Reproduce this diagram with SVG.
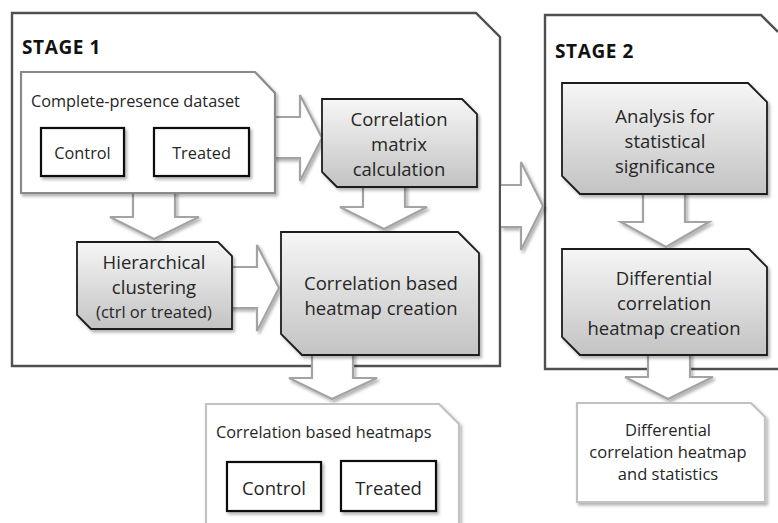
<svg xmlns="http://www.w3.org/2000/svg" width="778" height="523" viewBox="0 0 778 523">
<defs>
  <linearGradient id="proc" x1="0" y1="0" x2="0" y2="1">
    <stop offset="0" stop-color="#f6f6f6"/>
    <stop offset="1" stop-color="#c3c3c3"/>
  </linearGradient>
  <filter id="sh" x="-10%" y="-10%" width="125%" height="125%">
    <feDropShadow dx="2" dy="2.5" stdDeviation="1.6" flood-color="#000" flood-opacity="0.3"/>
  </filter>
  <style>
    .stage{fill:#fff;stroke:#4f4f4f;stroke-width:2.4}
    .arrow{fill:#fff;stroke:#a3a3a3;stroke-width:2.2;stroke-linejoin:miter;filter:url(#sh)}
    .card{fill:#fff;stroke:#8a8a8a;stroke-width:2.2;filter:url(#sh)}
    .out{fill:#fff;stroke:#c2c2c2;stroke-width:2.2;filter:url(#sh)}
    .proc{fill:url(#proc);stroke:#1c1c1c;stroke-width:1.8;filter:url(#sh)}
    .sub{fill:#fff;stroke:#111;stroke-width:2.2;filter:url(#sh)}
    text{font-family:"Open Sans","Liberation Sans",sans-serif;fill:#262626}
    .t{font-size:18.5px;text-anchor:middle}
    .s{font-size:16.3px}
    .sm{font-size:16.5px;text-anchor:middle}
    .h{font-size:19px;font-weight:bold;fill:#111;letter-spacing:0.6px}
  </style>
</defs>

<g id="stage1">
  <path class="stage" d="M12,13 H476 L500,37 V366 H12 Z"/>
  <text class="h" x="22" y="54">STAGE 1</text>
</g>
<g id="stage2">
  <path class="stage" d="M778,32 L761,15 H545 V369 H778"/>
  <text class="h" x="555" y="58">STAGE 2</text>
</g>

<g id="connectors">
  <path class="arrow" d="M272,117 H300 V95 L322,138 L300,181 V158 H272 Z"/>
  <path class="arrow" d="M133,190 V217 H110 L154,239 L199,217 H175 V190 Z"/>
  <path class="arrow" d="M363,185 V207 H340 L384,229 L427,207 H405 V185 Z"/>
  <path class="arrow" d="M229,267 H257 V245 L279,288 L257,331 V308 H229 Z"/>
  <path class="arrow" d="M501,185 H521 V162 L543,206 L521,250 V227 H501"/>
  <path class="arrow" d="M643,192 V222 H621 L666,247 L709,222 H685 V192 Z"/>
  <path class="arrow" d="M312,353 V378 H289 L332,399 L377,378 H353 V353 Z"/>
  <path class="arrow" d="M648,353 V377 H625 L668,399 L713,377 H690 V353 Z"/>
</g>

<g id="dataset">
  <path class="card" d="M21,72 H255 L275,93 V193 H21 Z"/>
  <text class="s" x="31" y="107">Complete-presence dataset</text>
  <rect class="sub" x="41" y="128" width="83" height="48"/>
  <text class="s" x="82.5" y="159" text-anchor="middle">Control</text>
  <rect class="sub" x="154" y="128" width="95" height="48"/>
  <text class="s" x="201.5" y="159" text-anchor="middle">Treated</text>
</g>

<g id="corr-matrix">
  <path class="proc" d="M322,99 H462 L477,114 V187 H337 L322,172 Z"/>
  <text class="t" x="399" y="126">Correlation</text>
  <text class="t" x="399" y="151">matrix</text>
  <text class="t" x="399" y="176">calculation</text>
</g>

<g id="hierarchical">
  <path class="proc" d="M77,242 H218 L232,256 V329 H91 L77,315 Z"/>
  <text class="t" x="154" y="269">Hierarchical</text>
  <text class="t" x="154" y="294">clustering</text>
  <text class="sm" x="154" y="318">(ctrl or treated)</text>
</g>

<g id="heatmap-creation">
  <path class="proc" d="M281,232 H458 L479,253 V355 H302 L281,334 Z"/>
  <text class="t" x="381" y="290">Correlation based</text>
  <text class="t" x="381" y="315">heatmap creation</text>
</g>

<g id="analysis">
  <path class="proc" d="M562,83 H748 L767,102 V194 H580 L562,176 Z"/>
  <text class="t" x="665" y="123">Analysis for</text>
  <text class="t" x="665" y="148">statistical</text>
  <text class="t" x="665" y="173">significance</text>
</g>

<g id="differential">
  <path class="proc" d="M562,249 H749 L767,267 V355 H580 L562,337 Z"/>
  <text class="t" x="664" y="285">Differential</text>
  <text class="t" x="664" y="310">correlation</text>
  <text class="t" x="664" y="335">heatmap creation</text>
</g>

<g id="heatmaps-output">
  <path class="out" d="M206,532 V404 H439 L459,424 V532"/>
  <text class="s" x="216" y="438">Correlation based heatmaps</text>
  <rect class="sub" x="227" y="462" width="94" height="49"/>
  <text class="t" x="274" y="495">Control</text>
  <rect class="sub" x="341" y="461" width="95" height="50"/>
  <text class="t" x="388.5" y="495">Treated</text>
</g>

<g id="stats-output">
  <path class="out" d="M577,403 H751 L765,417 V502 H577 Z"/>
  <text class="sm" x="668" y="436">Differential</text>
  <text class="sm" x="668" y="458">correlation heatmap</text>
  <text class="sm" x="668" y="480">and statistics</text>
</g>
</svg>
